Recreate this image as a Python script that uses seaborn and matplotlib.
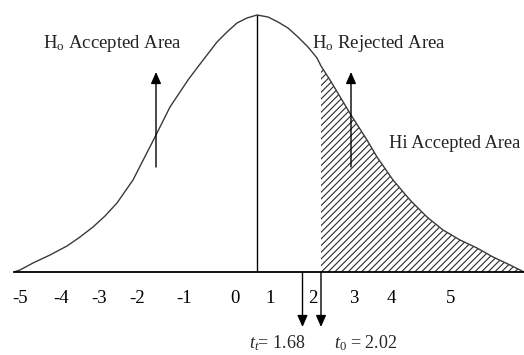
import matplotlib
matplotlib.use("Agg")
import matplotlib.pyplot as plt
import seaborn as sns
import numpy as np
import pandas as pd

# ---- data (horizontal unit = picture pixel, vertical = height above the axis) ----
curve_x = [14, 20, 33, 50, 67, 80, 93, 105, 117, 133, 156, 170, 188, 197, 207, 217, 227,
           237, 247, 257, 268, 278, 288, 298, 308, 317, 321, 330, 351, 367, 377, 393, 410,
           427, 443, 460, 477, 493, 510, 524]
curve_y = [0, 2, 9, 17, 26, 35, 45, 56, 69, 92, 137, 165, 192, 204, 217, 230, 240,
           249, 254, 257, 255, 250, 244, 235, 225, 214, 206, 192, 157, 132, 115, 92, 72,
           55, 42, 32, 24, 15, 7, 0]
tick_labels = ["-5", "-4", "-3", "-2", "-1", "0", "1", "2", "3", "4", "5"]
tick_pos = [20, 61, 99, 137, 184, 235, 270, 313, 354, 391, 451]
peak_x = 257
t_values = ["1.68", "2.02"]
t_names = ["t", "0"]
t_pos = [302.5, 321]
region_labels = [r"$\mathrm{H_o}$ Accepted Area", r"$\mathrm{H_o}$ Rejected Area", "Hi Accepted Area"]
region_arrow_x = [156, 351]

sns.set_style("white")
plt.rcParams["font.family"] = ["Liberation Serif", "DejaVu Serif"]
plt.rcParams["mathtext.fontset"] = "custom"
plt.rcParams["mathtext.rm"] = "Liberation Serif"
plt.rcParams["mathtext.it"] = "Liberation Serif:italic"
plt.rcParams["hatch.linewidth"] = 0.8

df = pd.DataFrame({"x": curve_x, "y": curve_y})

W, H = 524, 355
fig = plt.figure(figsize=(W / 100, H / 100), dpi=100)
# axes: left edge at the start of the base line, bottom at the base line, top at picture top
ax = fig.add_axes([14 / W, 83 / H, (524 - 14) / W, 272 / H])
ax.set_xlim(14, 524)
ax.set_ylim(0, 272)

sns.lineplot(data=df, x="x", y="y", ax=ax, color="#3a3a3a", lw=1.0, sort=True, estimator=None)

# hatched rejection region right of t0
xs = np.array(curve_x, dtype=float)
ys = np.array(curve_y, dtype=float)
mask = xs >= t_pos[1]
ax.fill_between(xs[mask], ys[mask], 0, facecolor="none", edgecolor="#2a2a2a",
                hatch="/////", linewidth=0)

# vertical line at the peak
ax.vlines(peak_x, 0, max(curve_y), color="black", lw=1.0)

# axis
for s in ["top", "right", "left"]:
    ax.spines[s].set_visible(False)
ax.spines["bottom"].set_color("black")
ax.spines["bottom"].set_linewidth(1.3)
ax.set_xticks(tick_pos, tick_labels)
ax.set_yticks([])
ax.tick_params(axis="x", length=0, pad=13, labelsize=13.5, colors="black")
ax.set_xlabel("")
ax.set_ylabel("")

# up arrows
for xa in region_arrow_x:
    ax.annotate("", xy=(xa, 272 - 72), xytext=(xa, 272 - 167),
                arrowprops=dict(arrowstyle="-|>,head_length=0.5,head_width=0.22",
                                color="black", lw=1.0, mutation_scale=14, shrinkA=0, shrinkB=0))

# down arrows at the t values
for xa in t_pos:
    ax.annotate("", xy=(xa, -55), xytext=(xa, 0),
                arrowprops=dict(arrowstyle="-|>,head_length=0.5,head_width=0.22",
                                color="black", lw=1.0, mutation_scale=14, shrinkA=0, shrinkB=0),
                annotation_clip=False)

# region labels
fs = 13.5
ax.text(43, 272 - 48, region_labels[0], fontsize=fs, ha="left", va="baseline", color="#222")
ax.text(312, 272 - 48, region_labels[1], fontsize=fs, ha="left", va="baseline", color="#222")
ax.text(389, 272 - 148, region_labels[2], fontsize=13.2, ha="left", va="baseline", color="#222",
        clip_on=False)

# t labels
ax.text(277, -76, rf"$t_{{{t_names[0]}}}$= {t_values[0]}", fontsize=13, ha="center",
        va="baseline", clip_on=False)
ax.text(366, -76, rf"$t_{{{t_names[1]}}}$ = {t_values[1]}", fontsize=13, ha="center",
        va="baseline", clip_on=False)

fig.savefig("out.png", dpi=100)
